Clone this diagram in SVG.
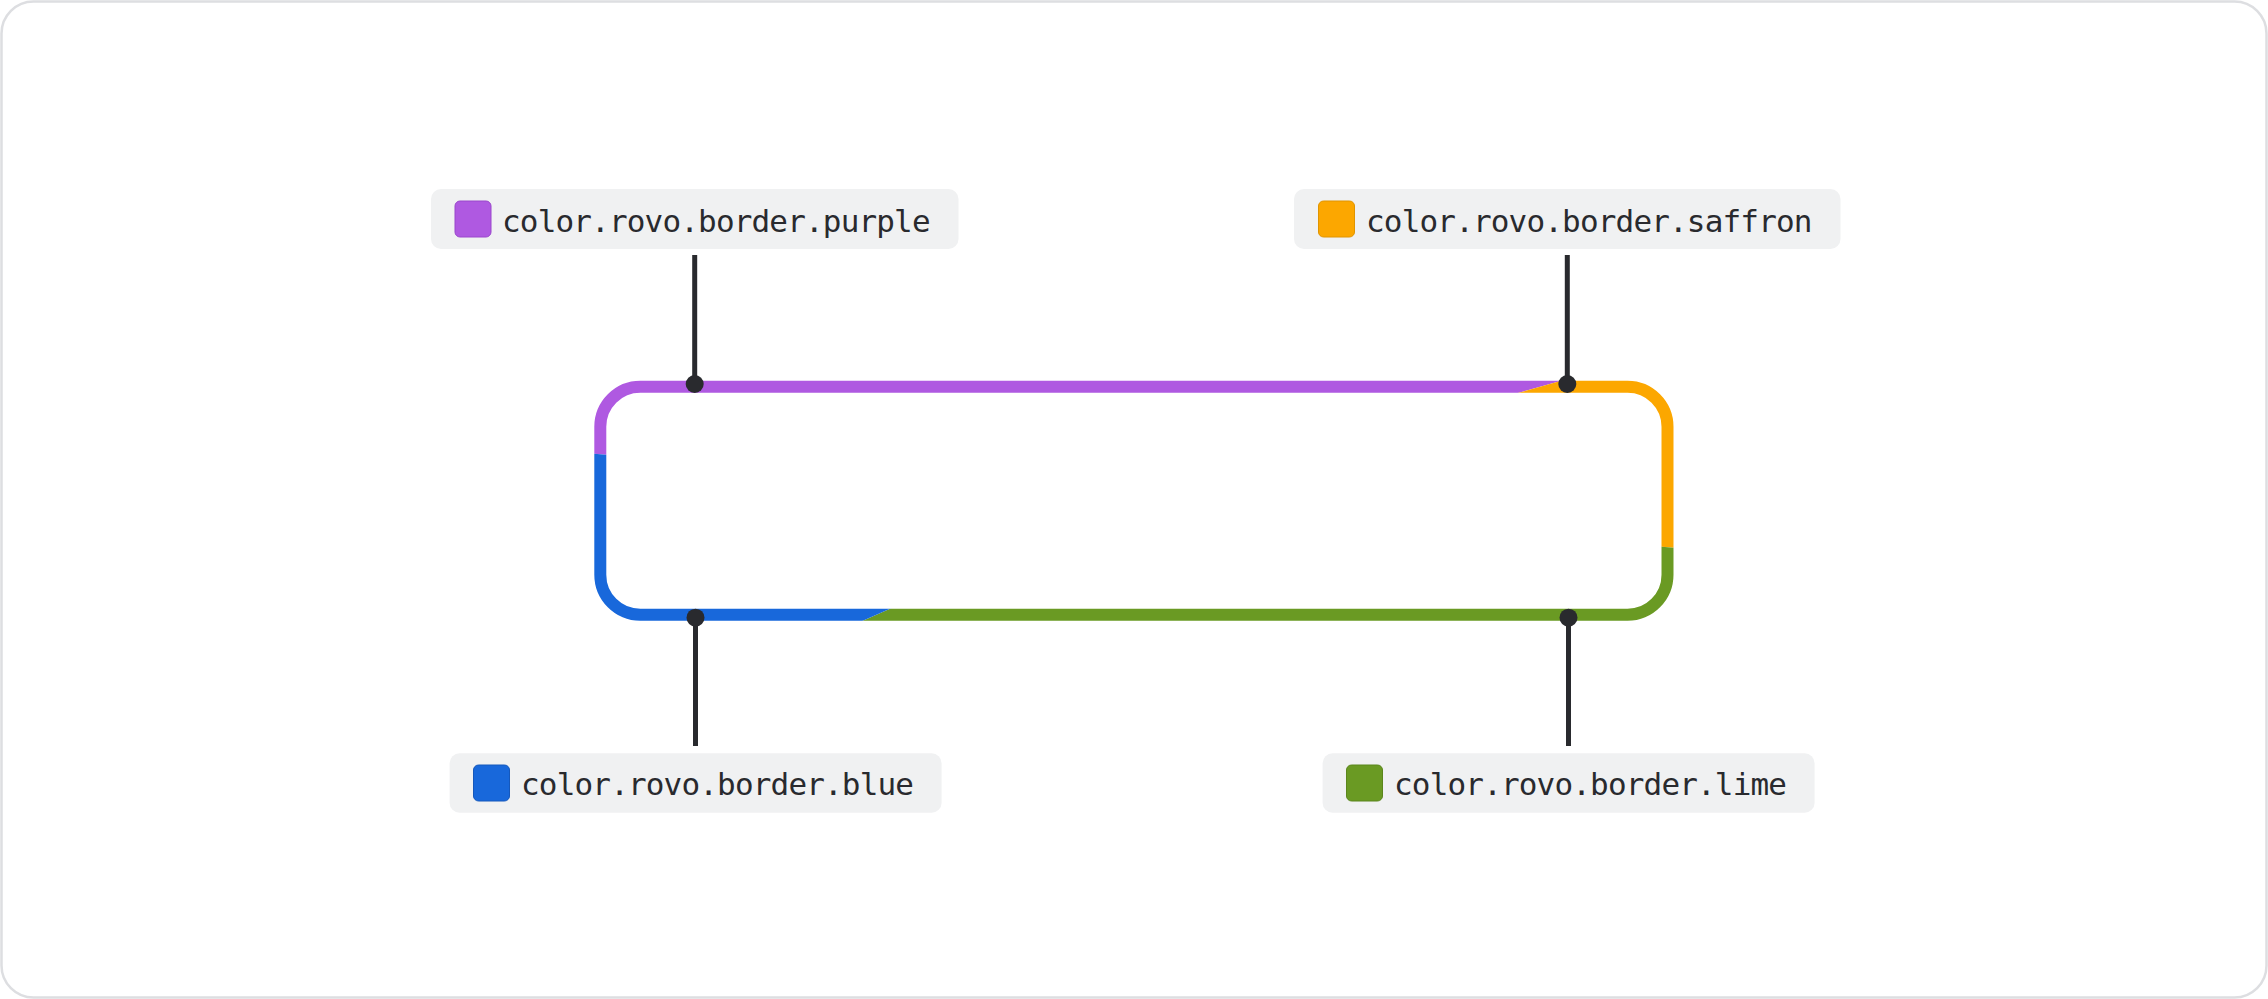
<svg xmlns="http://www.w3.org/2000/svg" width="2268" height="999" viewBox="0 0 2268 999">
  <style>
    .frame { fill: #FFFFFF; stroke: #DDDEE1; stroke-width: 2.5; }
    .label-bg { fill: #F0F1F2; }
    .label-text { font-family: "DejaVu Sans Mono", "Liberation Mono", monospace; font-size: 31px; fill: #292A2E; }
    .connector { stroke: #292A2E; stroke-width: 5; fill: none; }
    .dot { fill: #292A2E; }
    .ring { fill: none; stroke-width: 12; }
  </style>
  <defs>
    <clipPath id="clip-purple"><polygon points="1134,501 -4203,34 -4203,-3000 5184,-3000 5184,-639"/></clipPath>
    <clipPath id="clip-saffron"><polygon points="1134,501 5184,-639 6469,964"/></clipPath>
    <clipPath id="clip-lime"><polygon points="1134,501 6469,964 6469,4000 -1441,4000 -1441,1638"/></clipPath>
    <clipPath id="clip-blue"><polygon points="1134,501 -1441,1638 -4203,1638 -4203,34"/></clipPath>
    <rect id="ring-shape" x="600.3" y="386.8" width="1067.2" height="227.9" rx="40" ry="40"/>
  </defs>

  <rect class="frame" x="1.5" y="1.5" width="2265" height="996" rx="32" ry="32"/>

  <g id="bordered-box">
    <use href="#ring-shape" class="ring" stroke="#AF59E1" clip-path="url(#clip-purple)"/>
    <use href="#ring-shape" class="ring" stroke="#FCA700" clip-path="url(#clip-saffron)"/>
    <use href="#ring-shape" class="ring" stroke="#6A9A23" clip-path="url(#clip-lime)"/>
    <use href="#ring-shape" class="ring" stroke="#1868DB" clip-path="url(#clip-blue)"/>
  </g>

  <g id="connectors">
    <line class="connector" x1="694.7" y1="255" x2="694.7" y2="384"/>
    <circle class="dot" cx="694.7" cy="384" r="9"/>
    <line class="connector" x1="1567.3" y1="255" x2="1567.3" y2="384"/>
    <circle class="dot" cx="1567.3" cy="384" r="9"/>
    <line class="connector" x1="695.5" y1="617.7" x2="695.5" y2="746"/>
    <circle class="dot" cx="695.5" cy="617.7" r="9"/>
    <line class="connector" x1="1568.5" y1="617.7" x2="1568.5" y2="746"/>
    <circle class="dot" cx="1568.5" cy="617.7" r="9"/>
  </g>

  <g id="label-purple">
    <rect class="label-bg" x="431" y="189" width="527.5" height="60" rx="10"/>
    <rect x="455" y="201" width="36" height="36" rx="5" fill="#AF59E1" stroke="#9A46CC" stroke-width="1"/>
    <text class="label-text" x="502" y="232" textLength="428.6">color.rovo.border.purple</text>
  </g>

  <g id="label-saffron">
    <rect class="label-bg" x="1294" y="189" width="546.5" height="60" rx="10"/>
    <rect x="1318.5" y="201" width="36" height="36" rx="5" fill="#FCA700" stroke="#E09400" stroke-width="1"/>
    <text class="label-text" x="1366" y="232" textLength="446.5">color.rovo.border.saffron</text>
  </g>

  <g id="label-blue">
    <rect class="label-bg" x="449.6" y="753.3" width="492" height="59.5" rx="10"/>
    <rect x="473.5" y="765" width="36" height="36" rx="5" fill="#1868DB" stroke="#1558BC" stroke-width="1"/>
    <text class="label-text" x="521" y="794.5" textLength="393">color.rovo.border.blue</text>
  </g>

  <g id="label-lime">
    <rect class="label-bg" x="1322.6" y="753.3" width="492" height="59.5" rx="10"/>
    <rect x="1346.5" y="765" width="36" height="36" rx="5" fill="#6A9A23" stroke="#5B861C" stroke-width="1"/>
    <text class="label-text" x="1394" y="794.5" textLength="393">color.rovo.border.lime</text>
  </g>
</svg>
